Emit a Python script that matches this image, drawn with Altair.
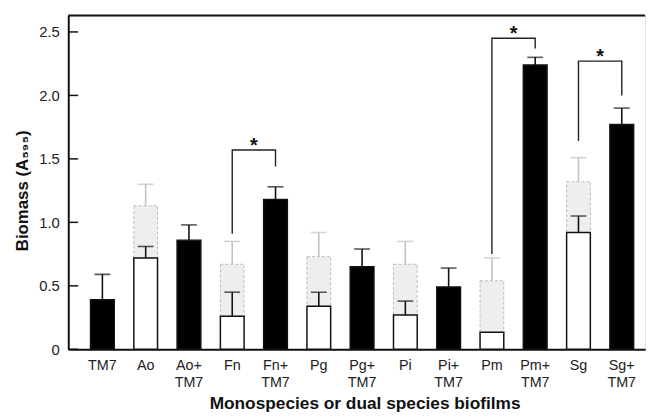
import altair as alt
import pandas as pd

categories = ["TM7", "Ao", "Ao+TM7", "Fn", "Fn+TM7", "Pg", "Pg+TM7",
              "Pi", "Pi+TM7", "Pm", "Pm+TM7", "Sg", "Sg+TM7"]
means = [0.39, 0.72, 0.86, 0.26, 1.18, 0.34, 0.65, 0.27, 0.49, 0.135, 2.24, 0.92, 1.77]
err_top = [0.59, 0.81, 0.98, 0.45, 1.28, 0.45, 0.79, 0.38, 0.64, 0.135, 2.30, 1.05, 1.90]

mono_cats = ["Ao", "Fn", "Pg", "Pi", "Pm", "Sg"]
mono_means = [0.72, 0.26, 0.34, 0.27, 0.135, 0.92]
expected = [1.13, 0.67, 0.73, 0.67, 0.54, 1.32]
expected_top = [1.30, 0.85, 0.92, 0.85, 0.72, 1.51]

tick_values = [0, 0.5, 1.0, 1.5, 2.0, 2.5]

br_left = ["Fn", "Pm", "Sg"]
br_right = ["Fn+TM7", "Pm+TM7", "Sg+TM7"]
br_left_y = [0.91, 0.75, 1.64]
br_top = [1.57, 2.45, 2.27]
br_right_y = [1.44, 2.37, 2.00]

FONT = "Liberation Sans"
W, H = 584, 338

bars = pd.DataFrame({
    "cat": categories, "mean": means, "top": err_top,
    "kind": ["mono" if c in mono_cats else "dual" for c in categories],
})
exp_df = pd.DataFrame({"cat": mono_cats, "mean": mono_means,
                       "exp": expected, "exptop": expected_top})

rows = []
for i in range(len(br_left)):
    pts = [(br_left[i], br_left_y[i]), (br_left[i], br_top[i]),
           (br_right[i], br_top[i]), (br_right[i], br_right_y[i])]
    for j, (c, v) in enumerate(pts):
        rows.append({"cat": c, "v": v, "ord": j, "id": i})
br_df = pd.DataFrame(rows)
star_df = pd.DataFrame({"cat": br_left, "v": br_top})
ticks_df = pd.DataFrame({"v": tick_values})

xscale = alt.Scale(domain=categories, paddingInner=0.452, paddingOuter=0.39, align=0.66)
yscale = alt.Scale(domain=[0, 2.63], nice=False, zero=True)

x_axis = alt.Axis(
    title="Monospecies or dual species biofilms", titleFont=FONT, titleFontSize=17.5,
    titleFontWeight="bold", titleColor="#111", titleX=300, titleY=60,
    titleBaseline="alphabetic", labelAngle=0, labelFont=FONT, labelFontSize=14.5,
    labelColor="#222", labelPadding=9, labelLineHeight=18, ticks=False,
    domainColor="#111", domainWidth=2,
    labelExpr="indexof(datum.label,'+')>0 ? [substring(datum.label,0,indexof(datum.label,'+')+1), substring(datum.label,indexof(datum.label,'+')+1)] : datum.label",
)
y_axis = alt.Axis(
    title="Biomass (A₅₉₅)", titleFont=FONT, titleFontSize=17, titleFontWeight="bold",
    titleColor="#111", titleX=-37, titleY=177, values=tick_values, ticks=False,
    labelFont=FONT, labelFontSize=15, labelColor="#222", labelPadding=9,
    labelExpr="datum.value == 0 ? '0' : format(datum.value, '.1f')",
    domainColor="#111", domainWidth=2, grid=False,
)

X = alt.X("cat:N", scale=xscale, axis=x_axis, sort=categories)


def Y(field):
    return alt.Y(field, scale=yscale, axis=y_axis)


gray_bar = alt.Chart(exp_df).mark_bar(
    fill="#eeeeee", stroke="#bbbbbb", strokeDash=[3, 2], strokeWidth=1
).encode(x=X, y=Y("mean:Q"), y2="exp:Q")
gray_err = alt.Chart(exp_df).mark_rule(color="#c2c2c2", strokeWidth=1.6).encode(
    x=X, y=Y("exp:Q"), y2="exptop:Q")
gray_cap = alt.Chart(exp_df).mark_tick(color="#c2c2c2", size=16, thickness=1.6).encode(
    x=X, y=Y("exptop:Q"))

base = alt.Chart(bars)
main_bar = base.mark_bar(strokeWidth=1.5, stroke="#111").encode(
    x=X, y=Y("mean:Q"),
    fill=alt.Fill("kind:N", scale=alt.Scale(domain=["mono", "dual"], range=["white", "black"]), legend=None),
)
errs = base.transform_filter("datum.top > datum.mean")
err_rule = errs.mark_rule(color="#111", strokeWidth=1.6).encode(
    x=X, y=Y("mean:Q"), y2="top:Q")
err_cap = errs.mark_tick(color="#111", size=16, thickness=1.6).encode(
    x=X, y=Y("top:Q"))

brackets = alt.Chart(br_df).mark_line(color="#222", strokeWidth=1.4).encode(
    x=X, y=Y("v:Q"), detail="id:N", order="ord:Q")
stars = alt.Chart(star_df).mark_text(
    text="*", font=FONT, fontSize=20, fontWeight="bold", dx=22, dy=2, baseline="alphabetic", color="#111"
).encode(x=X, y=Y("v:Q"))

inticks = alt.Chart(ticks_df).mark_rule(color="#111", strokeWidth=1.5).encode(
    y=Y("v:Q"), x=alt.value(0), x2=alt.value(10))
topline = alt.Chart(alt.Data(values=[{}])).mark_rule(color="#111", strokeWidth=2).encode(
    y=alt.value(0), x=alt.value(0), x2=alt.value(W))

chart = alt.layer(
    gray_bar, gray_err, gray_cap, main_bar, err_rule, err_cap, brackets, stars, inticks, topline
).properties(
    width=W, height=H,
    autosize=alt.AutoSizeParams(type="none"),
    padding={"left": 61, "top": 5, "right": 8, "bottom": 66},
).configure_view(stroke=None).configure(background="white")

chart.save("out.html", embed_options={"renderer": "svg", "actions": False})
